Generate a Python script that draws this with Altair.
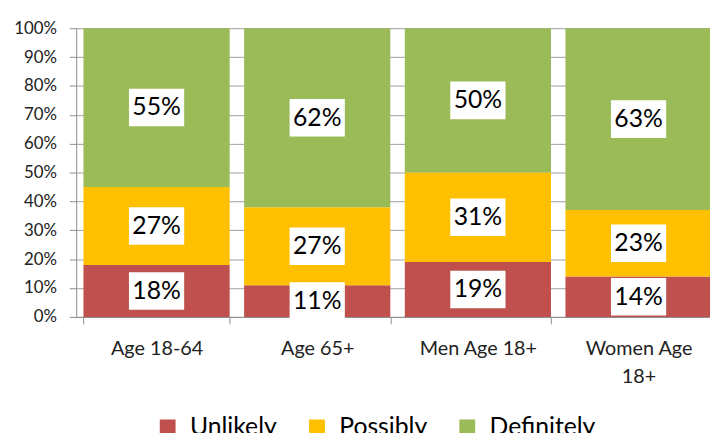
import altair as alt
import pandas as pd

categories = ["Age 18-64", "Age 65+", "Men Age 18+", "Women Age 18+"]
responses = ["Unlikely", "Possibly", "Definitely"]
unlikely = [18, 11, 19, 14]
possibly = [27, 27, 31, 23]
definitely = [55, 62, 50, 63]
colors = ["#C0504D", "#FFC000", "#9BBB59"]

rows = []
for i, cat in enumerate(categories):
    start = 0
    for resp, vals in zip(responses, [unlikely, possibly, definitely]):
        v = vals[i]
        rows.append({
            "category": cat,
            "response": resp,
            "value": v,
            "start": start / 100,
            "end": (start + v) / 100,
            "mid": (start + v / 2) / 100,
            "label": f"{v}%",
        })
        start += v
df = pd.DataFrame(rows)

FONT = "Lato"

x_axis = alt.Axis(
    title=None, labelAngle=0, tickBand="extent", grid=False,
    labelFont=FONT, labelFontSize=20, labelColor="#222",
    domainColor="#8c8c8c", tickColor="#8c8c8c", tickSize=7,
    labelPadding=15, labelLineHeight=28,
    labelExpr="datum.label == 'Women Age 18+' ? ['Women Age', '18+'] : datum.label",
)
x_scale = alt.Scale(range=[0, 650], paddingInner=0.09, paddingOuter=0.045)

y_axis = alt.Axis(
    title=None, format="%", values=[i / 10 for i in range(11)],
    labelFont=FONT, labelFontSize=17, labelColor="#222",
    labelPadding=13, tickSize=7, tickColor="#8c8c8c",
    domainColor="#8c8c8c", gridColor="#a0a0a0",
    labelOverlap=False,
)
y_scale = alt.Scale(domain=[0, 1], nice=False)


def xenc():
    return alt.X("category:N", sort=categories, scale=x_scale, axis=x_axis)


bars = alt.Chart(df).mark_bar().encode(
    x=xenc(),
    y=alt.Y("start:Q", scale=y_scale, axis=y_axis),
    y2="end:Q",
    color=alt.Color(
        "response:N",
        scale=alt.Scale(domain=responses, range=colors),
        legend=alt.Legend(
            title=None, orient="none", legendX=80, legendY=391,
            direction="horizontal", symbolType="square", symbolSize=256,
            symbolStrokeWidth=0, labelFont=FONT, labelFontSize=25,
            labelColor="#000", columnPadding=28, labelOffset=10,
        ),
    ),
)

boxes = alt.Chart(df).mark_point(
    shape="M-1.47,-1H1.47V1H-1.47Z", filled=True, color="white",
    opacity=1, size=1444, strokeWidth=0,
).encode(
    x=xenc(),
    y=alt.Y("mid:Q", scale=y_scale, axis=y_axis),
)

texts = alt.Chart(df).mark_text(
    font=FONT, fontSize=25, color="#000", baseline="middle", align="center",
).encode(
    x=xenc(),
    y=alt.Y("mid:Q", scale=y_scale, axis=y_axis),
    text="label:N",
)

chart = alt.layer(bars, boxes, texts).properties(
    width=641, height=292,
    autosize=alt.AutoSizeParams(type="none"),
    padding={"left": 69, "top": 18, "right": 0, "bottom": 115},
).configure_view(stroke=None)

chart.save("out.html", embed_options={"renderer": "svg", "actions": False})
